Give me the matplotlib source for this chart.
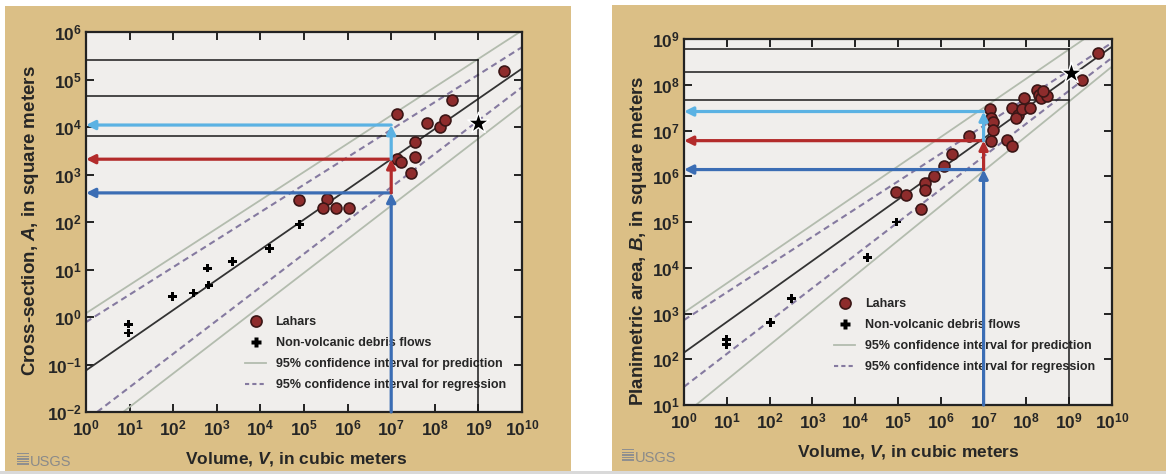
import matplotlib
matplotlib.use('Agg')
import matplotlib.pyplot as plt
from matplotlib.lines import Line2D
from matplotlib.patches import Rectangle

plt.rcParams['font.family'] = ['Liberation Sans', 'DejaVu Sans']
plt.rcParams['font.weight'] = 'bold'
plt.rcParams['mathtext.fontset'] = 'custom'
plt.rcParams['mathtext.rm'] = 'Liberation Sans:bold'
plt.rcParams['mathtext.bf'] = 'Liberation Sans:bold'
plt.rcParams['mathtext.it'] = 'Liberation Sans:italic:bold'

# ---------------- data ----------------
x_tick_exp = list(range(0, 11))
left_y_tick_exp = list(range(-2, 7))
right_y_tick_exp = list(range(1, 10))

# Left panel: cross-section A vs volume V
left_lahar_V = [7.8e4, 3.4e5, 2.8e5, 5.5e5, 1.1e6, 1.35e7, 1.35e7, 1.65e7, 2.8e7, 3.6e7,
                3.6e7, 6.8e7, 1.35e8, 1.75e8, 2.45e8, 3.9e9]
left_lahar_A = [290, 300, 195, 195, 195, 1.9e4, 2.1e3, 1.8e3, 1.1e3, 2.3e3,
                4.8e3, 1.2e4, 9.8e3, 1.4e4, 3.7e4, 1.5e5]
left_debris_V = [9.3, 9.3, 98, 290, 600, 660, 2.3e3, 1.6e4, 7.8e4]
left_debris_A = [0.71, 0.46, 2.7, 3.2, 10.7, 4.7, 14.5, 28, 87]
left_star_V = [1.0e9]
left_star_A = [1.2e4]
left_reg_V = [1, 1e10];      left_reg_A = [0.075, 1.7e5]
left_predU_V = [1, 1e10];    left_predU_A = [1.2, 1.07e6]
left_predL_V = [7.1, 1e10];  left_predL_A = [0.01, 2.9e4]
left_regU_V = [1, 1e10];     left_regU_A = [0.78, 4.8e5]
left_regL_V = [1.8, 1e10];   left_regL_A = [0.01, 6.9e4]
left_guide_levels = [2.6e5, 4.5e4, 6.5e3]
left_arrow_levels = [4.1e2, 2.1e3, 1.1e4]   # dark blue, red, light blue

# Right panel: planimetric area B vs volume V
right_lahar_V = [9.1e4, 1.5e5, 3.4e5, 4.2e5, 4.2e5, 7.1e5, 1.2e6, 1.8e6, 4.5e6, 1.4e7,
                 1.5e7, 1.65e7, 1.65e7, 1.5e7, 3.5e7, 4.7e7, 4.7e7, 6.3e7, 5.8e7, 7.8e7,
                 8.7e7, 1.2e8, 1.8e8, 1.95e8, 2.2e8, 3.0e8, 2.4e8, 2.0e9, 4.7e9]
right_lahar_B = [4.5e5, 3.8e5, 1.95e5, 7.2e5, 5.1e5, 1.0e6, 1.7e6, 3.0e6, 7.4e6, 2.9e7,
                 1.9e7, 1.5e7, 1.05e7, 5.8e6, 6.3e6, 4.6e6, 3.1e7, 2.2e7, 1.9e7, 2.9e7,
                 5.1e7, 3.1e7, 7.8e7, 6.0e7, 5.1e7, 5.6e7, 7.2e7, 1.3e8, 4.9e8]
right_debris_V = [10, 10, 105, 320, 1.95e4, 9.1e4]
right_debris_B = [270, 210, 630, 2.1e3, 1.7e4, 1.0e5]
right_star_V = [1.1e9]
right_star_B = [1.8e8]
right_reg_V = [1, 1e10];      right_reg_B = [140, 6.8e8]
right_predU_V = [1, 1e10];    right_predU_B = [1050, 2.6e9]
right_predL_V = [1.9, 1e10];  right_predL_B = [10, 2.5e8]
right_regU_V = [1, 1e10];     right_regU_B = [720, 8.3e8]
right_regL_V = [1, 1e10];     right_regL_B = [25, 3.9e8]
right_guide_levels = [5.9e8, 1.9e8, 4.6e7]
right_arrow_levels = [1.4e6, 6.0e6, 2.6e7]

guide_V = 1e9
arrow_V = 1e7

legend_labels = ['Lahars', 'Non-volcanic debris flows',
                 '95% confidence interval for prediction',
                 '95% confidence interval for regression']

# ---------------- style ----------------
TAN = '#dbbf86'
FACE = '#f0eeec'
TXT = '#262626'
LAHAR = '#8e2c2c'
LAHAR_EDGE = '#3b1616'
PRED = '#b3bcae'
REGC = '#857aa0'
DARKBLUE = '#3b6db4'
RED = '#b32b2b'
LIGHTBLUE = '#5bb2e3'

W, H = 1166, 474
fig = plt.figure(figsize=(W / 100, H / 100), dpi=100)
fig.patch.set_facecolor('white')


def fx(px):
    return px / W


def fy(py):
    return 1 - py / H


def add_rect(x0, y0, x1, y1, color, z=-10):
    fig.patches.append(Rectangle((fx(x0), fy(y1)), fx(x1) - fx(x0), fy(y0) - fy(y1),
                                 transform=fig.transFigure, facecolor=color,
                                 edgecolor='none', zorder=z))


# tan backgrounds
add_rect(5, 6, 571, 471, TAN)
add_rect(612, 5, 1166, 471, TAN)
add_rect(0, 471, 1166, 474, '#d9d9d9')


def logo(x, y):
    for i in range(5):
        add_rect(x, y + i * 2.6, x + 12, y + i * 2.6 + 1.4, '#8f8f8f', -5)
    fig.text(fx(x + 13), fy(y + 12.5), 'USGS', fontsize=10.5, color='#8a8a8a',
             fontweight='normal', ha='left', va='baseline')


logo(17, 453)
logo(622, 449)


def panel(rect_px, ylim, yexp, lahV, lahY, debV, debY, starV, starY,
          lines, guides, arrows, ylabel, ylabel_xy, xlabel_xy, leg_xy):
    x0, y0, x1, y1 = rect_px
    ax = fig.add_axes([fx(x0), fy(y1), fx(x1) - fx(x0), fy(y0) - fy(y1)])
    ax.set_zorder(1)
    ax.set_facecolor(FACE)
    ax.set_xscale('log')
    ax.set_yscale('log')
    ax.set_xlim(1, 1e10)
    ax.set_ylim(*ylim)
    ax.set_xticks([10.0 ** e for e in x_tick_exp])
    ax.set_xticklabels([r'$\mathbf{10^{%d}}$' % e for e in x_tick_exp])
    ax.set_yticks([10.0 ** e for e in yexp])
    ax.set_yticklabels([r'$\mathbf{10^{%d}}$' % e for e in yexp])
    ax.minorticks_off()
    ax.tick_params(which='major', direction='in', length=6, width=1.4, colors='#222222',
                   top=True, right=True, labelsize=12.5, pad=3)
    ax.tick_params(axis='x', pad=5)
    for lab in ax.get_xticklabels() + ax.get_yticklabels():
        lab.set_color(TXT)
    for s in ax.spines.values():
        s.set_linewidth(1.6)
        s.set_color('#222222')

    (regV, regY), (puV, puY), (plV, plY), (ruV, ruY), (rlV, rlY) = lines
    ax.plot(puV, puY, color=PRED, lw=1.3, zorder=2)
    ax.plot(plV, plY, color=PRED, lw=1.3, zorder=2)
    ax.plot(ruV, ruY, color=REGC, lw=1.5, ls=(0, (3, 2)), zorder=2)
    ax.plot(rlV, rlY, color=REGC, lw=1.5, ls=(0, (3, 2)), zorder=2)
    ax.plot(regV, regY, color='#333333', lw=1.3, zorder=2.2)

    # guide lines
    for g in guides:
        ax.plot([1, guide_V], [g, g], color='#1a1a1a', lw=1.1, zorder=2.5)
    ax.plot([guide_V, guide_V], [ylim[0], max(guides)], color='#1a1a1a', lw=1.1, zorder=2.5)

    ax.scatter(lahV, lahY, s=62, marker='o', facecolor=LAHAR, edgecolor=LAHAR_EDGE,
               linewidths=1.2, zorder=4)
    ax.scatter(debV, debY, s=40, marker='P', facecolor='black', edgecolor='none', zorder=4)
    ax.scatter(starV, starY, s=260, marker='*', facecolor='black', edgecolor='white',
               linewidths=1.0, zorder=6)

    # arrows
    cols = [DARKBLUE, RED, LIGHTBLUE]
    starts = [ylim[0]] + list(arrows[:-1])
    for lev, st, c in zip(arrows, starts, cols):
        ax.annotate('', xy=(arrow_V, lev), xytext=(arrow_V, st),
                    arrowprops=dict(arrowstyle='-|>', color=c, lw=2.3, mutation_scale=13,
                                    shrinkA=0, shrinkB=0), zorder=6, annotation_clip=False)
        ax.annotate('', xy=(1.0, lev), xytext=(arrow_V, lev),
                    arrowprops=dict(arrowstyle='-|>', color=c, lw=2.3, mutation_scale=13,
                                    shrinkA=0, shrinkB=0), zorder=6, annotation_clip=False)

    handles = [Line2D([], [], marker='o', ls='none', mfc=LAHAR, mec=LAHAR_EDGE, ms=8, mew=1.2),
               Line2D([], [], marker='P', ls='none', mfc='black', mec='none', ms=6.5),
               Line2D([], [], color=PRED, lw=1.3),
               Line2D([], [], color=REGC, lw=1.5, ls=(0, (2, 1.5)))]
    leg = ax.legend(handles, legend_labels, loc='upper left',
                    bbox_to_anchor=(fx(leg_xy[0]), fy(leg_xy[1])),
                    bbox_transform=fig.transFigure, frameon=False, borderpad=0,
                    borderaxespad=0, handlelength=1.7, handletextpad=0.75,
                    labelspacing=0.72, prop={'size': 9, 'weight': 'bold'})
    for t in leg.get_texts():
        t.set_color(TXT)
    leg.set_zorder(2.3)

    fig.text(fx(ylabel_xy[0]), fy(ylabel_xy[1]), ylabel, rotation=90, ha='center',
             va='center', fontsize=13.5, fontweight='bold', color=TXT)
    fig.text(fx(xlabel_xy[0]), fy(xlabel_xy[1]), r'Volume, $\mathit{V}$, in cubic meters',
             ha='center', va='center', fontsize=12.5, fontweight='bold', color=TXT)
    return ax


panel((86, 32, 522, 412), (1e-2, 1e6), left_y_tick_exp,
      left_lahar_V, left_lahar_A, left_debris_V, left_debris_A, left_star_V, left_star_A,
      [(left_reg_V, left_reg_A), (left_predU_V, left_predU_A), (left_predL_V, left_predL_A),
       (left_regU_V, left_regU_A), (left_regL_V, left_regL_A)],
      left_guide_levels, left_arrow_levels,
      r'Cross-section, $\mathit{A}$, in square meters', (31, 221), (296, 459), (245, 316))

panel((684, 39, 1112, 405), (1e1, 1e9), right_y_tick_exp,
      right_lahar_V, right_lahar_B, right_debris_V, right_debris_B, right_star_V, right_star_B,
      [(right_reg_V, right_reg_B), (right_predU_V, right_predU_B), (right_predL_V, right_predL_B),
       (right_regU_V, right_regU_B), (right_regL_V, right_regL_B)],
      right_guide_levels, right_arrow_levels,
      r'Planimetric area, $\mathit{B}$, in square meters', (639, 241), (908, 452), (834, 298))

fig.savefig('out.png', dpi=100)
